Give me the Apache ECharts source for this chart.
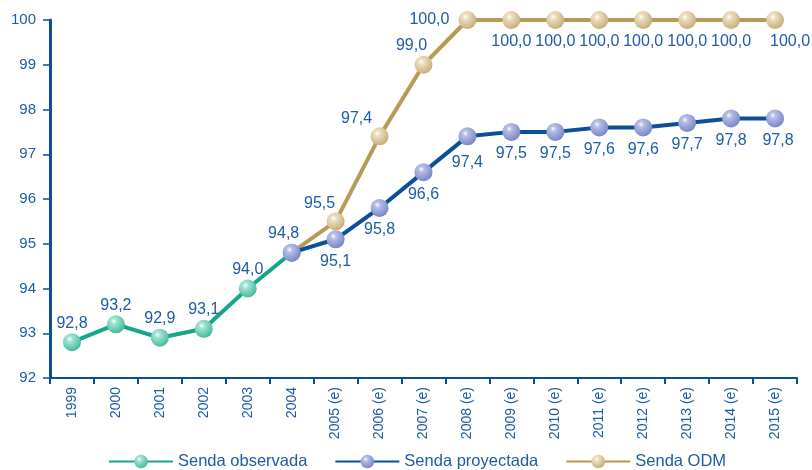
<!DOCTYPE html>
<html>
<head>
<meta charset="utf-8">
<script src="https://cdn.jsdelivr.net/npm/echarts@6/dist/echarts.min.js"></script>
<style>
  html, body { margin: 0; padding: 0; background: #fff; }
  #chart { width: 812px; height: 470px; }
</style>
</head>
<body>
<div id="chart"></div>
<script>
// categorias del eje x
var years = ['1999', '2000', '2001', '2002', '2003', '2004', '2005 (e)', '2006 (e)', '2007 (e)',
  '2008 (e)', '2009 (e)', '2010 (e)', '2011 (e)', '2012 (e)', '2013 (e)', '2014 (e)', '2015 (e)'];
var observada = [92.8, 93.2, 92.9, 93.1, 94.0, 94.8, null, null, null, null, null, null, null, null, null, null, null];
var proyectada = [null, null, null, null, null, 94.8, 95.1, 95.8, 96.6, 97.4, 97.5, 97.5, 97.6, 97.6, 97.7, 97.8, 97.8];
var odm = [null, null, null, null, null, 94.8, 95.5, 97.4, 99.0, 100.0, 100.0, 100.0, 100.0, 100.0, 100.0, 100.0, 100.0];
var yTicks = [92, 93, 94, 95, 96, 97, 98, 99, 100];

var txtColor = '#1d5ca6';
var axisColor = '#0b4f96';
var fontFam = 'Liberation Sans, Arial, sans-serif';

function fmt(p) {
  return p.value.toFixed(1).replace('.', ',');
}

function sphere(light, dark) {
  return new echarts.graphic.RadialGradient(0.38, 0.33, 0.72, [
    { offset: 0, color: '#ffffff' },
    { offset: 0.22, color: light },
    { offset: 1, color: dark }
  ]);
}

// posiciones de etiquetas por punto
function labelFor(i, series) {
  if (series === 'proy') {
    if (i === 5) return { show: true, position: 'top', offset: [-8, 3] };
    if (i === 9) return { show: true, position: 'bottom', offset: [0, 4] };
    if (i === 16) return { show: true, position: 'bottom', offset: [3, 0] };
    return { show: true, position: 'bottom' };
  }
  if (series === 'odm') {
    if (i === 5) return { show: false };
    if (i === 6) return { show: true, position: 'top', offset: [-16, 4] };
    if (i === 7) return { show: true, position: 'top', offset: [-23, 4] };
    if (i === 8) return { show: true, position: 'top', offset: [-12, 3] };
    if (i === 9) return { show: true, position: 'left', distance: 9 };
    if (i === 16) return { show: true, position: 'bottom', offset: [15, 0] };
    return { show: true, position: 'bottom' };
  }
  return { show: true, position: 'top', offset: [0, 3] };
}

function buildData(arr, key) {
  return arr.map(function (v, i) {
    if (v === null) return null;
    var item = { value: v, label: labelFor(i, key) };
    if (key === 'odm' && i === 5) item.symbol = 'none';
    if (key === 'obs' && i === 5) item.label = { show: false };
    return item;
  });
}

var labelStyle = {
  color: txtColor,
  fontSize: 16,
  fontFamily: fontFam,
  formatter: fmt
};

var myChart = echarts.init(document.getElementById('chart'));

var option = {
  backgroundColor: '#ffffff',
  animation: false,
  textStyle: { fontFamily: fontFam },
  grid: { left: 50, right: 15, top: 20, bottom: 92 },
  legend: {
    top: 453,
    left: 108,
    itemWidth: 64,
    itemHeight: 17,
    itemGap: 27,
    padding: 0,
    textStyle: { color: txtColor, fontSize: 16.5, fontFamily: fontFam },
    data: ['Senda observada', 'Senda proyectada', 'Senda ODM']
  },
  xAxis: {
    type: 'category',
    data: years,
    boundaryGap: true,
    axisLine: { lineStyle: { color: axisColor, width: 2 } },
    axisTick: { show: true, length: 6, lineStyle: { color: axisColor, width: 2 } },
    axisLabel: { rotate: 90, color: txtColor, fontSize: 14, margin: 9 }
  },
  yAxis: {
    type: 'value',
    min: yTicks[0],
    max: yTicks[yTicks.length - 1],
    interval: 1,
    splitLine: { show: false },
    axisLine: { show: true, lineStyle: { color: axisColor, width: 3 } },
    axisTick: { show: true, length: 7, lineStyle: { color: axisColor, width: 1.5 } },
    axisLabel: { color: txtColor, fontSize: 15, margin: 14 }
  },
  series: [
    {
      name: 'Senda observada',
      type: 'line',
      data: buildData(observada, 'obs'),
      symbol: 'circle',
      symbolSize: 18,
      lineStyle: { color: '#17a68a', width: 4 },
      itemStyle: { color: sphere('#a3e4d3', '#3db798') },
      label: labelStyle,
      z: 2
    },
    {
      name: 'Senda ODM',
      type: 'line',
      data: buildData(odm, 'odm'),
      symbol: 'circle',
      symbolSize: 18,
      lineStyle: { color: '#b79a55', width: 4 },
      itemStyle: { color: sphere('#ecdfbe', '#c3aa74') },
      label: labelStyle,
      z: 3
    },
    {
      name: 'Senda proyectada',
      type: 'line',
      data: buildData(proyectada, 'proy'),
      symbol: 'circle',
      symbolSize: 18,
      lineStyle: { color: '#0b4f96', width: 4 },
      itemStyle: { color: sphere('#b6bde8', '#7482c0') },
      label: labelStyle,
      z: 4
    }
  ]
};

myChart.setOption(option);
</script>
</body>
</html>
